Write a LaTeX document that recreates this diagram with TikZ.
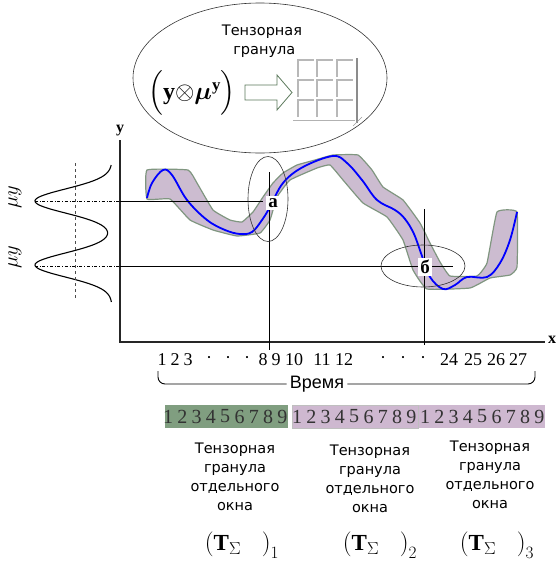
\documentclass[tikz,border=0pt]{standalone}
\usepackage{amsmath,bm}
\usepackage{fontspec}
\setmainfont{Liberation Serif}
\newfontfamily\dvs{DejaVu Sans}
\newfontfamily\lsans{Liberation Sans}
\usetikzlibrary{shapes.geometric}
\definecolor{bandfill}{RGB}{204,188,208}
\definecolor{bandedge}{RGB}{128,150,128}
\definecolor{gbar}{RGB}{128,158,128}
\definecolor{lbar}{RGB}{206,184,208}
\definecolor{arrowedge}{RGB}{90,120,90}
\begin{document}
\begin{tikzpicture}[x=1pt,y=-1pt,
  axis/.style={line width=1.3pt,draw=black!85},
  guide/.style={line width=0.6pt,draw=black},
  thin ell/.style={line width=0.6pt,draw=black!80},
  lbl/.style={fill=white,inner sep=2.5pt,font=\fontsize{19}{19}\selectfont\bfseries},
  ticklbl/.style={inner sep=0pt,font=\fontsize{18}{18}\selectfont},
  bardigit/.style={inner sep=0pt,text=black!80,font=\fontsize{20}{20}\selectfont},
  captext/.style={align=center,inner sep=0pt,font=\dvs\fontsize{14.5}{19}\selectfont},
  tform/.style={inner sep=0pt,font=\fontsize{23}{26}\selectfont},
  mulbl/.style={rotate=90,inner sep=0pt,font=\fontsize{20}{20}\selectfont},
  gridln/.style={draw=black!28,line width=1.4pt}]
\useasboundingbox (0,0) rectangle (558,565);

% top ellipse
\node[draw=black!80,line width=0.6pt,ellipse,minimum width=254pt,minimum height=150pt,inner sep=0pt] (topell) at (260,78) {};
\node[captext] (toptext) at (262,41) {Тензорная\\\ гранула};
\node[inner sep=0pt,font=\fontsize{24}{28}\selectfont] (formula) at (192,93)
  {$\left(\rule[-15pt]{0pt}{38pt}\mathbf{y}{\otimes}\bm{\mu}^{\mathbf{y}}\right)$};
\draw[arrowedge,line width=0.8pt,fill=white] (245,85) -- (277,85) -- (277,75) -- (292,92.5) -- (277,110) -- (277,100) -- (245,100) -- cycle;
% grid
\foreach \cx in {298,317,337}{
  \foreach \cy in {60,80,100}{
    \draw[gridln] (\cx,\cy+17) -- (\cx,\cy) -- (\cx+16,\cy);
  }
}
\draw[draw=black!45,line width=1.6pt] (357,58) -- (357,123);
\draw[draw=black!30,line width=1pt] (293,120) -- (355,120);
\draw[draw=black!40,line width=0.6pt] (353,126) -- (362,117);

% bell curves
\draw[line width=1.1pt,domain=165:302,samples=120,smooth,variable=\t]
  plot ({112-77*(exp(-((\t-201)^2)/288)+exp(-((\t-265)^2)/288))},{\t});
\coordinate (vd0) at (75,163);
\coordinate (vd1) at (75,300);
\draw[dashed,line width=0.7pt,black!70] (vd0) -- (vd1);
\node[mulbl] (mu1) at (15,197) {$\mu y$};
\node[mulbl] (mu2) at (15,257) {$\mu y$};

% axes
\coordinate (O) at (120,342);
\coordinate (ytop) at (120,140);
\coordinate (xend) at (545,342);
\draw[axis] (ytop) -- (O) -- (xend);
\node[inner sep=0pt,font=\fontsize{16}{16}\selectfont\bfseries] (ylab) at (120,131) {y};
\node[inner sep=0pt,font=\fontsize{16}{16}\selectfont\bfseries] (xlab) at (552,340) {x};

% band
\draw[fill=bandfill,draw=bandedge,line width=1.2pt]
  plot[smooth cycle,tension=0.2] coordinates {
  (147,170) (188,170) (197,183) (213,210) (230,220) (242,222) (253,212) (263,197) (273,183) (283,173) (297,165) (315,160) (333,155) (358,155)
  (372,170) (383,187) (403,200) (420,223) (430,243) (440,262) (450,276) (477,276) (487,263) (497,212) (517,212) (517,267) (510,275)
  (490,278) (470,288) (427,289) (413,270) (403,240) (387,217) (363,203) (343,180) (330,165) (317,168) (290,180) (277,197) (270,220)
  (260,233) (237,236) (213,230) (190,220) (170,199) (147,199)};
% blue signal
\draw[blue,line width=1.8pt] plot[smooth,tension=0.6] coordinates {
  (147,198) (152,183) (163,170) (172,175) (187,200) (207,220) (225,230) (240,234) (252,232) (262,220) (270,207) (283,183) (303,167)
  (333,156) (347,163) (362,180) (377,200) (395,210) (405,219) (414,234) (422,256) (430,277) (443,289) (455,285) (467,277) (487,277)
  (500,263) (510,240) (517,212)};

% guide lines
\coordinate (ha0) at (35,201);
\coordinate (ha1) at (120,201);
\coordinate (ha2) at (263,201);
\coordinate (hb0) at (35,266);
\coordinate (hb1) at (120,266);
\coordinate (hb2) at (453,266);
\coordinate (va0) at (269,172);
\coordinate (va1) at (269,350);
\coordinate (vb0) at (424,209);
\coordinate (vb1) at (424,345);
\draw[dash dot,line width=0.6pt] (ha0) -- (ha1);
\draw[dash dot,line width=0.6pt] (hb0) -- (hb1);
\draw[guide] (ha1) -- (ha2);
\draw[guide] (hb1) -- (hb2);
\draw[guide] (va0) -- (va1);
\draw[guide] (vb0) -- (vb1);
\node[thin ell,ellipse,minimum width=40pt,minimum height=85pt,inner sep=0pt] (ella) at (268,199) {};
\node[thin ell,ellipse,minimum width=84pt,minimum height=42pt,inner sep=0pt] (ellb) at (423,266) {};
\node[lbl] (la) at (273,203) {а};
\node[lbl] (lb) at (425,267) {б};

% tick labels
\foreach \t/\xx [count=\i] in {1/162,2/175,3/188,·/209,·/228,·/247,8/263,9/276,10/294,11/322,12/344,·/383,·/403,·/423,24/449,25/473,26/496,27/518}{
  \node[ticklbl] (tk\i) at (\xx,360) {\t};
}
% brace with label
\node[inner sep=3pt,font=\lsans\fontsize{18}{18}\selectfont] (time) at (317,384) {Время};
\coordinate (bl) at (158,371);
\coordinate (br) at (535,371);
\draw[line width=0.9pt,rounded corners=7pt] (bl) -- (bl |- time) -- (time.west);
\draw[line width=0.9pt,rounded corners=7pt] (time.east) -- (br |- time) -- (br);

% window bars
\node[fill=gbar,minimum width=123pt,minimum height=23pt,inner sep=0pt] (bar1) at (226.5,416.5) {};
\node[fill=lbar,draw=black!25,line width=0.4pt,minimum width=126pt,minimum height=23pt,inner sep=0pt] (bar2) at (355,416.5) {};
\node[fill=lbar,minimum width=126pt,minimum height=23pt,inner sep=0pt] (bar3) at (482,416.5) {};
\foreach \b/\xs in {1/168,2/297,3/425}{
  \foreach \d in {1,...,9}{
    \node[bardigit] (b\b-\d) at ({\xs+(\d-1)*14.3},416.5) {\d};
  }
}

% captions
\node[captext] (cap1) at (235,477) {Тензорная\\гранула\\отдельного\\окна};
\node[captext] (cap2) at (370,479) {Тензорная\\гранула\\отдельного\\окна};
\node[captext] (cap3) at (490,475) {Тензорная\\гранула\\отдельного\\окна};
\node[tform] (T1) at (242,545) {$\left(\rule[-7pt]{0pt}{24pt}\mathbf{T}_{\Sigma}\;\;\;\right)_{1}$};
\node[tform] (T2) at (380,545) {$\left(\rule[-7pt]{0pt}{24pt}\mathbf{T}_{\Sigma}\;\;\;\right)_{2}$};
\node[tform] (T3) at (497,545) {$\left(\rule[-7pt]{0pt}{24pt}\mathbf{T}_{\Sigma}\;\;\;\right)_{3}$};
\end{tikzpicture}
\end{document}
